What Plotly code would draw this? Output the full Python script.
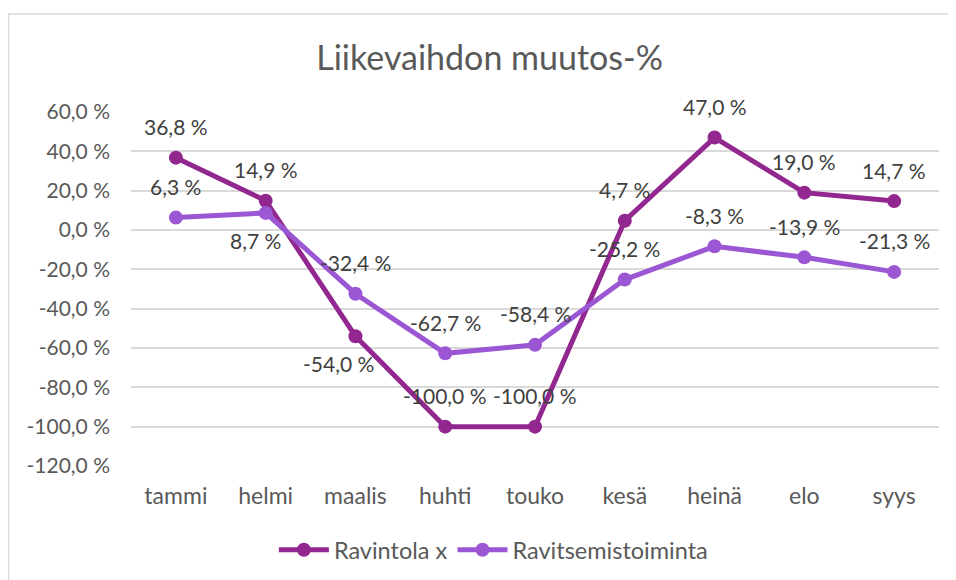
import plotly.graph_objects as go

# data
months = ["tammi", "helmi", "maalis", "huhti", "touko", "kesä", "heinä", "elo", "syys"]
ravintola_x = [36.8, 14.9, -54.0, -100.0, -100.0, 4.7, 47.0, 19.0, 14.7]
ravitsemistoiminta = [6.3, 8.7, -32.4, -62.7, -58.4, -25.2, -8.3, -13.9, -21.3]
y_ticks = [60, 40, 20, 0, -20, -40, -60, -80, -100, -120]
y_tick_labels = ["60,0 %", "40,0 %", "20,0 %", "0,0 %", "-20,0 %", "-40,0 %",
                 "-60,0 %", "-80,0 %", "-100,0 %", "-120,0 %"]

FONT = "Lato"
DARK = "#92278F"
LIGHT = "#9B57D3"
W, H = 948, 572   # page body has an 8px margin

def fmt(v):
    return f"{v:.1f} %".replace(".", ",")

fig = go.Figure()
fig.add_trace(go.Scatter(x=months, y=ravintola_x, name="Ravintola x",
                         mode="lines+markers",
                         line=dict(color=DARK, width=5),
                         marker=dict(color=DARK, size=14)))
fig.add_trace(go.Scatter(x=months, y=ravitsemistoiminta, name="Ravitsemistoiminta",
                         mode="lines+markers",
                         line=dict(color=LIGHT, width=5),
                         marker=dict(color=LIGHT, size=14)))

# data labels (mostly above the point, a couple moved below like in the original)
ann = []
shift_a = {2: (-17, -27)}
shift_b = {1: (-10, -28)}
for i, (m, v) in enumerate(zip(months, ravintola_x)):
    dx, dy = shift_a.get(i, (0, 31))
    ann.append(dict(x=m, y=v, text=fmt(v), showarrow=False, xshift=dx, yshift=dy,
                    font=dict(family=FONT, size=21, color="#404040")))
for i, (m, v) in enumerate(zip(months, ravitsemistoiminta)):
    dx, dy = shift_b.get(i, (0, 31))
    ann.append(dict(x=m, y=v, text=fmt(v), showarrow=False, xshift=dx, yshift=dy,
                    font=dict(family=FONT, size=21, color="#404040")))

fig.update_layout(
    width=W, height=H,
    margin=dict(l=123, r=17, t=104, b=114),
    paper_bgcolor="white", plot_bgcolor="white",
    font=dict(family=FONT, size=21, color="#595959"),
    title=dict(text="Liikevaihdon muutos-%", x=0.508, xanchor="center",
               y=1 - 50 / H, yanchor="middle",
               font=dict(family=FONT, size=34, color="#595959")),
    showlegend=True,
    legend=dict(orientation="h", xref="container", x=0.512, xanchor="center",
                yref="container", y=1 - 542 / H, yanchor="middle",
                font=dict(family=FONT, size=23.5, color="#595959"),
                itemwidth=50),
    annotations=ann,
    shapes=[dict(type="rect", xref="paper", yref="paper",
                 x0=(0.5 - 123) / 808, x1=(960 - 123) / 808,
                 y0=(458 - 580) / 354, y1=(458 - 6) / 354,
                 line=dict(color="#d9d9d9", width=1.5), layer="below")],
)
fig.update_xaxes(range=[-0.5, 8.5], showgrid=False, showline=False, zeroline=False,
                 ticks="", ticklabelstandoff=14,
                 tickfont=dict(family=FONT, size=23, color="#595959"))
fig.update_yaxes(range=[-120, 60], tickvals=y_ticks, ticktext=y_tick_labels,
                 showgrid=True, gridcolor="#d9d9d9", gridwidth=1.5,
                 zeroline=False, showline=False, ticks="", ticklabelstandoff=20,
                 tickfont=dict(family=FONT, size=21, color="#595959"))

fig.write_html("out.html")
